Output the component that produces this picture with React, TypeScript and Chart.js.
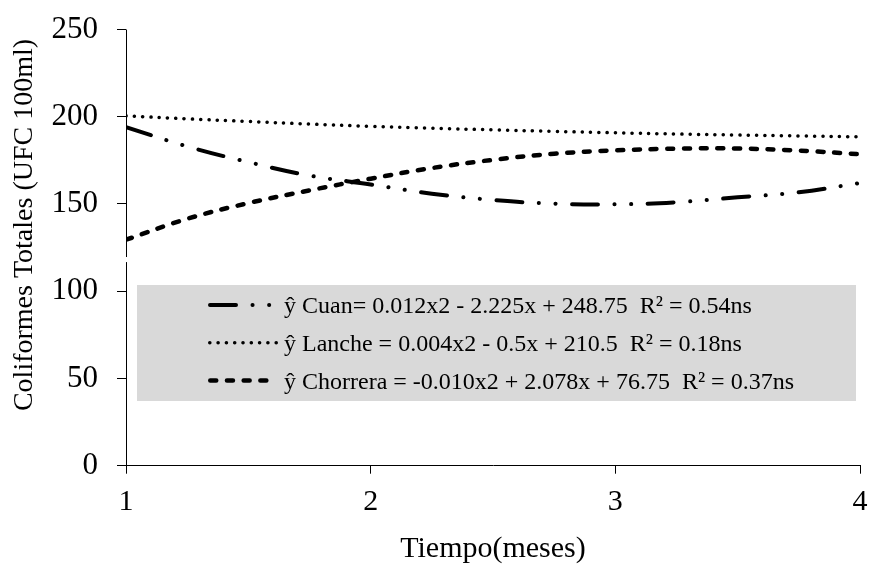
import React, { useEffect, useRef } from "react";
import { Chart, registerables } from "chart.js";

Chart.register(...registerables);

// Time (months)
const months = [1, 1.25, 1.5, 1.75, 2, 2.25, 2.5, 2.75, 3, 3.25, 3.5, 3.75, 4];
// Coliformes totales (UFC 100ml)
const cuan = [194, 183, 174, 166.3, 161.2, 155.9, 152.3, 150.2, 149.8, 151, 153.8, 156.7, 162];
const lanche = [200.5, 198.8, 197.3, 195.8, 194.5, 193.4, 192.5, 191.6, 190.8, 190.1, 189.5, 189, 188.5];
const chorrera = [129.5, 141.5, 150.5, 157.8, 164.5, 170.6, 175.3, 178.8, 180.7, 181.7, 181.8, 180.6, 178.5];

const seriesLabels = [
  "ŷ Cuan= 0.012x2 - 2.225x + 248.75  R² = 0.54ns",
  "ŷ Lanche = 0.004x2 - 0.5x + 210.5  R² = 0.18ns",
  "ŷ Chorrera = -0.010x2 + 2.078x + 76.75  R² = 0.37ns",
];
const xTicks = [1, 2, 3, 4];
const yTicks = [0, 50, 100, 150, 200, 250];
const xTitle = "Tiempo(meses)";
const yTitle = "Coliformes Totales (UFC 100ml)";
const axisBreak = [116.7, 119.6];

const FONT = '"Liberation Serif", "Times New Roman", serif';

const toPoints = (ys: number[]) => months.map((m, i) => ({ x: m, y: ys[i] }));

const breakAxisPlugin = {
  id: "breakAxis",
  afterDraw(chart: any) {
    const { ctx, chartArea: ca, scales } = chart;
    const y = scales.y;
    const gTop = y.getPixelForValue(axisBreak[1]);
    const gBot = y.getPixelForValue(axisBreak[0]);
    ctx.save();
    ctx.strokeStyle = "#000";
    ctx.lineWidth = 1;
    ctx.beginPath();
    ctx.moveTo(ca.left + 0.5, ca.top);
    ctx.lineTo(ca.left + 0.5, gTop);
    ctx.moveTo(ca.left + 0.5, gBot);
    ctx.lineTo(ca.left + 0.5, ca.bottom);
    ctx.stroke();
    // y title
    ctx.fillStyle = "#000";
    ctx.font = `28px ${FONT}`;
    ctx.textAlign = "center";
    ctx.textBaseline = "middle";
    ctx.translate(25, 225);
    ctx.rotate(-Math.PI / 2);
    ctx.fillText(yTitle, 0, 0);
    ctx.restore();
  },
};

const legendPlugin = {
  id: "innerLegend",
  afterDatasetsDraw(chart: any) {
    const { ctx, chartArea: ca } = chart;
    ctx.save();
    const bx = ca.left + 11;
    const by = 285;
    const bw = ca.right - 4 - bx;
    const bh = 116;
    ctx.fillStyle = "#d9d9d9";
    ctx.fillRect(bx, by, bw, bh);
    chart.data.datasets.forEach((ds: any, i: number) => {
      const cy = 305 + i * 37.8;
      const w = ds.borderWidth;
      ctx.strokeStyle = "#000";
      ctx.lineWidth = w;
      ctx.lineCap = "round";
      ctx.setLineDash(ds.borderDash);
      ctx.beginPath();
      ctx.moveTo(208 + w / 2, cy);
      ctx.lineTo(278 - w / 2, cy);
      ctx.stroke();
      ctx.setLineDash([]);
      ctx.fillStyle = "#000";
      ctx.font = `24px ${FONT}`;
      ctx.textAlign = "left";
      ctx.textBaseline = "alphabetic";
      ctx.fillText(ds.label, 284, cy + 8);
    });
    ctx.restore();
  },
};

export default function App() {
  const ref = useRef<HTMLCanvasElement | null>(null);
  useEffect(() => {
    document.body.style.margin = "0";
    const canvas = ref.current;
    if (!canvas) return;
    const chart = new Chart(canvas, {
      type: "scatter",
      data: {
        datasets: [
          {
            label: seriesLabels[0],
            data: toPoints(cuan),
            showLine: true,
            borderColor: "#000",
            borderWidth: 4,
            borderDash: [26, 16.5, 0.1, 16.5, 0.1, 16.5],
            borderCapStyle: "round",
            pointRadius: 0,
            tension: 0.4,
          },
          {
            label: seriesLabels[1],
            data: toPoints(lanche),
            showLine: true,
            borderColor: "#000",
            borderWidth: 3.5,
            borderDash: [0.1, 8.2],
            borderCapStyle: "round",
            pointRadius: 0,
            tension: 0.4,
          },
          {
            label: seriesLabels[2],
            data: toPoints(chorrera),
            showLine: true,
            borderColor: "#000",
            borderWidth: 4.5,
            borderDash: [6, 10.7],
            borderCapStyle: "round",
            pointRadius: 0,
            tension: 0.4,
          },
        ] as any,
      },
      options: {
        animation: false,
        responsive: false,
        devicePixelRatio: 1,
        layout: { padding: { top: 29.5, right: 9, bottom: 0, left: 0 } },
        plugins: {
          legend: { display: false },
          tooltip: { enabled: false },
        },
        scales: {
          x: {
            type: "linear",
            min: xTicks[0],
            max: xTicks[xTicks.length - 1],
            afterBuildTicks: (s: any) => {
              s.ticks = xTicks.map((v) => ({ value: v }));
            },
            afterFit: (s: any) => {
              s.height = 98.3;
              s.paddingLeft = 0;
              s.paddingRight = 0;
            },
            grid: { drawOnChartArea: false, drawTicks: true, tickLength: 8, color: "#000" },
            border: { display: true, color: "#000", width: 1 },
            ticks: {
              color: "#000",
              font: { family: FONT, size: 30 },
              padding: 10,
              maxRotation: 0,
            },
            title: {
              display: true,
              text: xTitle,
              color: "#000",
              font: { family: FONT, size: 30, lineHeight: 1.0 },
              padding: { top: 0, bottom: 0 },
            },
          },
          y: {
            type: "linear",
            min: yTicks[0],
            max: yTicks[yTicks.length - 1],
            afterBuildTicks: (s: any) => {
              s.ticks = yTicks.map((v) => ({ value: v }));
            },
            afterFit: (s: any) => {
              s.width = 126;
              s.paddingTop = 0;
              s.paddingBottom = 0;
            },
            grid: { drawOnChartArea: false, drawTicks: true, tickLength: 9, color: "#000" },
            border: { display: false },
            ticks: {
              color: "#000",
              font: { family: FONT, size: 31 },
              padding: 19,
            },
          },
        },
      } as any,
      plugins: [legendPlugin, breakAxisPlugin],
    });
    return () => chart.destroy();
  }, []);
  return (
    <div style={{ width: 869, height: 564 }}>
      <canvas ref={ref} width={869} height={564} style={{ display: "block" }} />
    </div>
  );
}
